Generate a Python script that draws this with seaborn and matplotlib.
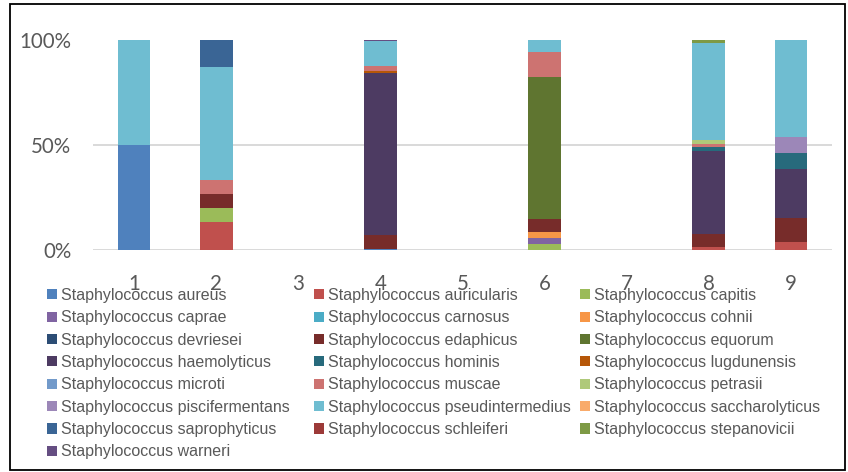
import matplotlib
matplotlib.use("Agg")
import matplotlib.pyplot as plt
from matplotlib.patches import Rectangle
import pandas as pd
import seaborn as sns

# Samples on the x axis
samples = [1, 2, 3, 4, 5, 6, 7, 8, 9]

# Species (series) in legend / stacking order
species = [
    "Staphylococcus aureus", "Staphylococcus auricularis", "Staphylococcus capitis",
    "Staphylococcus caprae", "Staphylococcus carnosus", "Staphylococcus cohnii",
    "Staphylococcus devriesei", "Staphylococcus edaphicus", "Staphylococcus equorum",
    "Staphylococcus haemolyticus", "Staphylococcus hominis", "Staphylococcus lugdunensis",
    "Staphylococcus microti", "Staphylococcus muscae", "Staphylococcus petrasii",
    "Staphylococcus piscifermentans", "Staphylococcus pseudintermedius",
    "Staphylococcus saccharolyticus", "Staphylococcus saprophyticus",
    "Staphylococcus schleiferi", "Staphylococcus stepanovicii", "Staphylococcus warneri",
]

colors = [
    "#4F81BD", "#C0504D", "#9BBB59", "#8064A2", "#4BACC6", "#F79646",
    "#2C4D75", "#772C2A", "#5F7530", "#4D3B62", "#276A7C", "#B65708",
    "#729ACA", "#CD7371", "#AFC97A", "#9C87B8", "#6FBDD1", "#F9AB6B",
    "#3A6595", "#9C3A38", "#7E9A45", "#654E82",
]

# Relative abundance (%) per sample, one list per species
aureus           = [50, 0,    0, 0.7,  0, 0,    0, 0,    0]
auricularis      = [0,  13.3, 0, 0,    0, 0,    0, 1.5,  3.8]
capitis          = [0,  6.7,  0, 0,    0, 2.9,  0, 0,    0]
caprae           = [0,  0,    0, 0,    0, 2.9,  0, 0,    0]
carnosus         = [0,  0,    0, 0,    0, 0,    0, 0,    0]
cohnii           = [0,  0,    0, 0,    0, 2.9,  0, 0,    0]
devriesei        = [0,  0,    0, 0,    0, 0,    0, 0,    0]
edaphicus        = [0,  6.7,  0, 6.4,  0, 5.9,  0, 6.0,  11.5]
equorum          = [0,  0,    0, 0,    0, 67.6, 0, 0,    0]
haemolyticus     = [0,  0,    0, 77.1, 0, 0,    0, 39.7, 23.1]
hominis          = [0,  0,    0, 0,    0, 0,    0, 1.7,  7.7]
lugdunensis      = [0,  0,    0, 0.7,  0, 0,    0, 0,    0]
microti          = [0,  0,    0, 0,    0, 0,    0, 0,    0]
muscae           = [0,  6.7,  0, 2.6,  0, 11.8, 0, 1.6,  0]
petrasii         = [0,  0,    0, 0,    0, 0,    0, 1.7,  0]
piscifermentans  = [0,  0,    0, 0,    0, 0,    0, 0,    7.7]
pseudintermedius = [50, 53.3, 0, 11.8, 0, 5.9,  0, 46.1, 46.2]
saccharolyticus  = [0,  0,    0, 0,    0, 0,    0, 0,    0]
saprophyticus    = [0,  13.3, 0, 0,    0, 0,    0, 0,    0]
schleiferi       = [0,  0,    0, 0,    0, 0,    0, 0,    0]
stepanovicii     = [0,  0,    0, 0,    0, 0,    0, 1.7,  0]
warneri          = [0,  0,    0, 0.7,  0, 0,    0, 0,    0]

values = [aureus, auricularis, capitis, caprae, carnosus, cohnii, devriesei,
          edaphicus, equorum, haemolyticus, hominis, lugdunensis, microti,
          muscae, petrasii, piscifermentans, pseudintermedius, saccharolyticus,
          saprophyticus, schleiferi, stepanovicii, warneri]

ytick_vals = [0, 50, 100]
ytick_labels = ["0%", "50%", "100%"]

rows = []
for name, vals in zip(species, values):
    for s, v in zip(samples, vals):
        rows.append({"sample": s, "species": name, "pct": v})
df = pd.DataFrame(rows)
palette = dict(zip(species, colors))

sns.set_theme(style="white")
plt.rcParams["font.family"] = ["Liberation Sans", "DejaVu Sans"]

W, H = 848, 472
fig = plt.figure(figsize=(W / 100, H / 100), dpi=100)
ax = fig.add_axes([93 / W, 1 - 250 / H, (832 - 93) / W, (250 - 39.5) / H])

# Stacked bars: seaborn stacks the last hue level at the bottom
sns.histplot(data=df, x="sample", weights="pct", hue="species",
             hue_order=species[::-1], palette=palette, multiple="stack",
             discrete=True, shrink=0.4, alpha=1, linewidth=0,
             legend=False, ax=ax)

ax.set_xlim(0.5, 9.5)
ax.set_ylim(0, 100)
ax.set_xticks(samples)
ax.set_xticklabels([str(s) for s in samples])
ax.set_yticks(ytick_vals)
ax.set_yticklabels(ytick_labels)
ax.set_xlabel("")
ax.set_ylabel("")
ax.yaxis.grid(True, color="#D9D9D9", linewidth=1.4)
ax.xaxis.grid(False)
ax.set_axisbelow(True)
for sp in ax.spines.values():
    sp.set_visible(False)
ax.tick_params(axis="both", length=0, labelsize=14.8, labelcolor="#595959")
ax.tick_params(axis="y", pad=15.5)
ax.tick_params(axis="x", pad=17)
for lbl in ax.get_xticklabels() + ax.get_yticklabels():
    lbl.set_family(["Lato", "DejaVu Sans"])

# Three-column legend, filled row by row
handles = [Rectangle((0, 0), 1, 1, facecolor=c, edgecolor="none") for c in colors]
col_x = [47, 314, 580]
for k, x in enumerate(col_x):
    idx = list(range(k, len(species), 3))
    fig.legend([handles[i] for i in idx], [species[i] for i in idx],
               loc="upper left", bbox_to_anchor=(x / W, 1 - 288 / H),
               frameon=False, fontsize=11.5, handlelength=0.6, handleheight=0.6,
               handletextpad=0.3, labelspacing=0.46, borderpad=0,
               borderaxespad=0, labelcolor="#595959")

# Outer chart border
fig.add_artist(Rectangle((10 / W, 2 / H), 835 / W, 466 / H, transform=fig.transFigure,
                         fill=False, edgecolor="black", linewidth=1.3))

fig.savefig("out.png", dpi=100)
